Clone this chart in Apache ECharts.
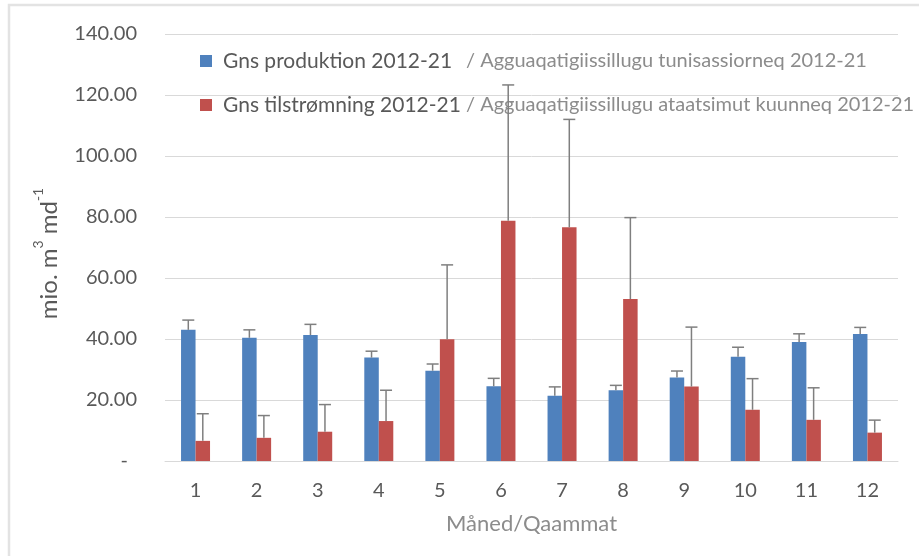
<!DOCTYPE html>
<html>
<head>
<meta charset="utf-8">
<script src="https://cdn.jsdelivr.net/npm/echarts@6/dist/echarts.min.js"></script>
<style>
  html, body { margin: 0; padding: 0; background: #fff; }
  #chart { width: 919px; height: 556px; }
</style>
</head>
<body>
<div id="chart"></div>
<script>
const months = ["1", "2", "3", "4", "5", "6", "7", "8", "9", "10", "11", "12"];
// mean production, mio. m3 per day
const production = [43.0, 40.4, 41.3, 33.9, 29.6, 24.5, 21.4, 23.2, 27.4, 34.2, 39.0, 41.6];
const productionSd = [3.2, 2.6, 3.5, 2.1, 2.2, 2.6, 2.9, 1.6, 2.1, 3.1, 2.7, 2.2];
// mean inflow
const inflow = [6.6, 7.6, 9.6, 13.1, 39.9, 78.8, 76.6, 53.1, 24.4, 16.8, 13.5, 9.3];
const inflowSd = [8.9, 7.3, 8.9, 10.1, 24.4, 44.5, 35.4, 26.7, 19.5, 10.2, 10.5, 4.1];

const yTicks = { min: 0, max: 140, interval: 20 };
const names = ["Gns produktion 2012-21", "Gns tilstrømning 2012-21"];
const suffixes = {
  "Gns produktion 2012-21": "/ Agguaqatigiissillugu tunisassiorneq 2012-21",
  "Gns tilstrømning 2012-21": "/ Agguaqatigiissillugu ataatsimut kuunneq 2012-21"
};

const FONT = "Lato";
const BAR_W = 14.5;

function errorSeries(values, sds, side) {
  return {
    type: "custom",
    silent: true,
    z: 5,
    data: values.map((v, i) => [i, v, v + sds[i]]),
    renderItem: (params, api) => {
      const base = api.coord([api.value(0), api.value(1)]);
      const top = api.coord([api.value(0), api.value(2)]);
      const x = base[0] + side * BAR_W / 2;
      const style = { stroke: "#7f7f7f", lineWidth: 1.5 };
      return {
        type: "group",
        children: [
          { type: "line", shape: { x1: x, y1: base[1], x2: x, y2: top[1] }, style },
          { type: "line", shape: { x1: x - 6, y1: top[1], x2: x + 6, y2: top[1] }, style }
        ]
      };
    }
  };
}

const chart = echarts.init(document.getElementById("chart"));
chart.setOption({
  animation: false,
  textStyle: { fontFamily: FONT },
  graphic: [{
    type: "rect",
    shape: { x: 9, y: 5, width: 1200, height: 1200 },
    style: { fill: "none", stroke: "#e3e3e3", lineWidth: 2.5 },
    silent: true
  }],
  grid: { left: 165, right: 21, top: 34, bottom: 95 },
  legend: {
    orient: "vertical",
    left: 200,
    top: 49,
    padding: 0,
    icon: "rect",
    itemWidth: 12,
    itemHeight: 12,
    itemGap: 20,
    data: names,
    formatter: n => "{a|" + n + "}{b|" + suffixes[n] + "}",
    textStyle: {
      lineHeight: 24,
      rich: {
        a: { fontFamily: FONT, fontSize: 21, color: "#595959", width: 243, padding: [0, 0, 0, 6] },
        b: { fontFamily: FONT, fontSize: 20, color: "#8c8c8c" }
      }
    }
  },
  xAxis: {
    type: "category",
    data: months,
    name: "Måned/Qaammat",
    nameLocation: "middle",
    nameGap: 52,
    nameTextStyle: { fontFamily: FONT, fontSize: 22, color: "#8c8c8c" },
    axisLine: { lineStyle: { color: "#d9d9d9" } },
    axisTick: { show: false },
    axisLabel: { fontFamily: FONT, fontSize: 20, color: "#595959", margin: 20 }
  },
  yAxis: {
    type: "value",
    min: yTicks.min,
    max: yTicks.max,
    interval: yTicks.interval,
    name: "{t|mio. m}{s|3}{t| md}{s|-1}",
    nameLocation: "middle",
    nameGap: 104,
    nameTextStyle: {
      padding: [0, 12, 0, 0],
      rich: {
        t: { fontFamily: FONT, fontSize: 24, color: "#595959", lineHeight: 30, verticalAlign: "bottom" },
        s: { fontFamily: FONT, fontSize: 14, color: "#595959", lineHeight: 30, verticalAlign: "top" }
      }
    },
    splitLine: { lineStyle: { color: "#d9d9d9" } },
    axisLine: { show: false },
    axisTick: { show: false },
    axisLabel: {
      fontFamily: FONT,
      fontSize: 20,
      color: "#595959",
      margin: 28,
      formatter: v => v === 0 ? "{d|-}" : v.toFixed(2),
      rich: { d: { fontFamily: FONT, fontSize: 20, color: "#595959", padding: [0, 9, 0, 0] } }
    }
  },
  series: [
    {
      name: names[0],
      type: "bar",
      data: production,
      barWidth: BAR_W,
      barGap: "0%",
      itemStyle: { color: "#4f81bd" }
    },
    {
      name: names[1],
      type: "bar",
      data: inflow,
      barWidth: BAR_W,
      barGap: "0%",
      itemStyle: { color: "#c0504d" }
    },
    errorSeries(production, productionSd, -1),
    errorSeries(inflow, inflowSd, 1)
  ]
});
</script>
</body>
</html>
